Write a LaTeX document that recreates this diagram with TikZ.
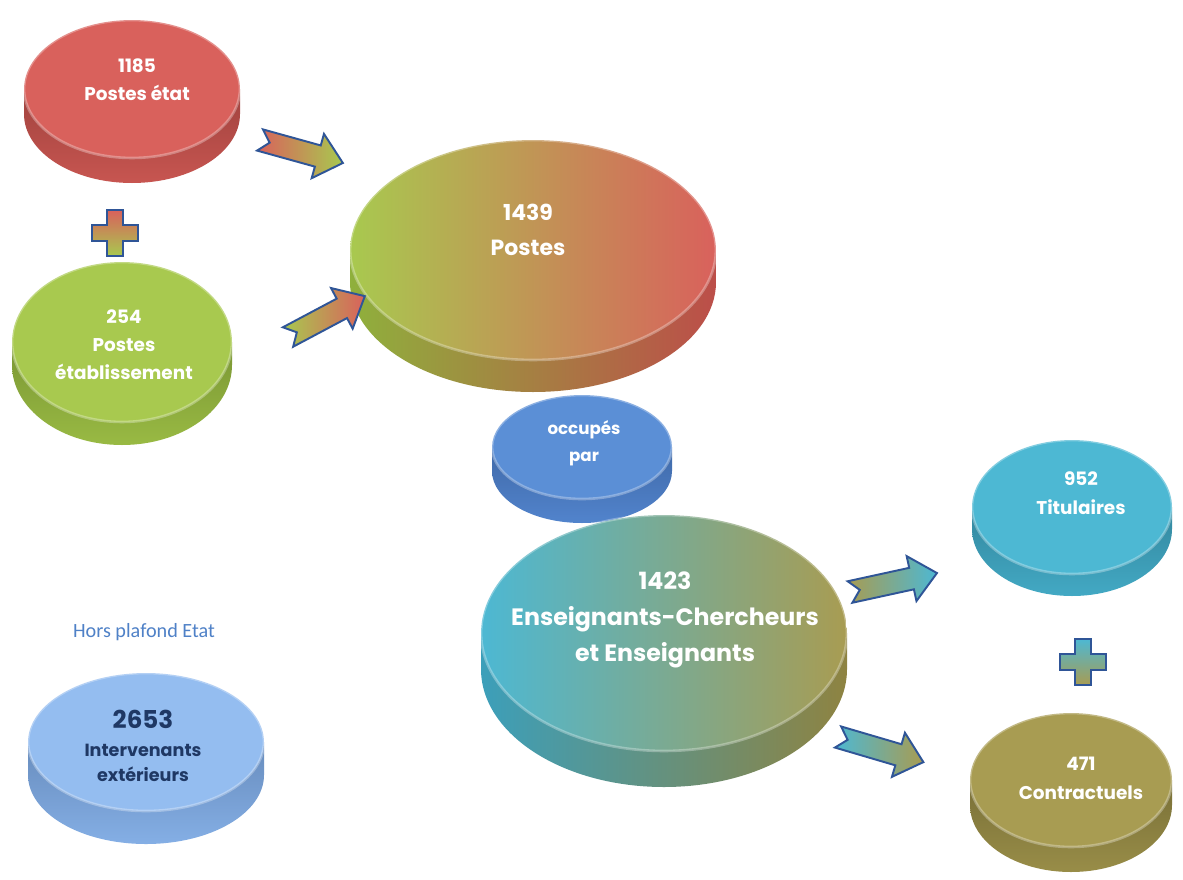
\documentclass[tikz,border=0pt]{standalone}
\usepackage{fontspec}
\setmainfont{Poppins}
\newfontfamily\carl{Carlito}
\usetikzlibrary{shapes.geometric}
\definecolor{cred}{HTML}{D9615C}
\definecolor{credrim}{HTML}{BC4E49}
\definecolor{cgreen}{HTML}{A8C94F}
\definecolor{cgreenrim}{HTML}{8FB03C}
\definecolor{cblue}{HTML}{5B8FD6}
\definecolor{cbluerim}{HTML}{4B7CC6}
\definecolor{ccyan}{HTML}{4DB8D3}
\definecolor{ccyanrim}{HTML}{3C9FBA}
\definecolor{colive}{HTML}{A89C52}
\definecolor{coliverim}{HTML}{8E8341}
\definecolor{clight}{HTML}{94BDF0}
\definecolor{clightrim}{HTML}{7AA5DE}
\definecolor{cnavy}{HTML}{1F3864}
\definecolor{cborder}{HTML}{2F5597}
\definecolor{chors}{HTML}{4F81C7}
% name, cx, cy, rx, ry, depth, face style, rim style
\newcommand\mydisk[8]{%
  \path[#8] (#2-#4,#3) -- (#2-#4,#3+#6)
    arc[start angle=180, end angle=0, x radius=#4, y radius=#5]
    -- (#2+#4,#3) -- cycle;
  \node[ellipse, inner sep=0pt, minimum width=#4*0.04cm, minimum height=#5*0.04cm, #7] (#1) at (#2,#3) {};
}
% x, y, angle, length, tail colour, head colour
\newcommand\blockarrow[6]{%
  \begin{scope}[shift={(#1,#2)}, rotate=#3]
    \draw[arrowline, left color=#5, right color=#6]
      (0,-11) -- (#4-26,-11) -- (#4-26,-23) -- (#4,0) -- (#4-26,23)
      -- (#4-26,11) -- (0,11) -- (10,0) -- cycle;
  \end{scope}}
% x, y, top colour, bottom colour
\newcommand\plussign[4]{%
  \draw[arrowline, top color=#3, bottom color=#4]
    (#1-8,#2-23) -- (#1+8,#2-23) -- (#1+8,#2-8) -- (#1+23,#2-8) -- (#1+23,#2+8)
    -- (#1+8,#2+8) -- (#1+8,#2+23) -- (#1-8,#2+23) -- (#1-8,#2+8) -- (#1-23,#2+8)
    -- (#1-23,#2-8) -- (#1-8,#2-8) -- cycle;}
\begin{document}
\begin{tikzpicture}[x=0.02cm,y=-0.02cm,
  arrowline/.style={draw=cborder, line width=1.1pt, line join=miter},
  lab/.style={text=white, align=center, font=\bfseries},
  facedraw/.style={draw=white, draw opacity=0.3, line width=1.5pt}]
\useasboundingbox (0,0) rectangle (1183,879);
\fill[white] (0,0) rectangle (1183,879);

% disks
\mydisk{d1185}{132}{89}{108}{69}{25}{fill=cred, facedraw}{top color=credrim!85!black, bottom color=credrim!60!cred}
\mydisk{d254}{122}{342}{110}{80}{23}{fill=cgreen, facedraw}{top color=cgreenrim!85!black, bottom color=cgreenrim!60!cgreen}
\mydisk{d1439}{533}{250}{183}{110}{32}{left color=cgreen, right color=cred, facedraw}{left color=cgreenrim, right color=credrim}
\mydisk{docc}{582}{447}{90}{52}{24}{fill=cblue, facedraw}{top color=cbluerim!85!black, bottom color=cbluerim!60!cblue}
\mydisk{d1423}{664}{633}{183}{118}{36}{left color=ccyan, right color=colive, facedraw}{left color=ccyanrim, right color=coliverim}
\mydisk{d952}{1072}{507}{100}{67}{22}{fill=ccyan, facedraw}{top color=ccyanrim!85!black, bottom color=ccyanrim!60!ccyan}
\mydisk{d471}{1071}{780}{101}{67}{25}{fill=colive, facedraw}{top color=coliverim!85!black, bottom color=coliverim!60!colive}
\mydisk{d2653}{146}{742}{118}{69}{33}{fill=clight, facedraw}{top color=clightrim!85!black, bottom color=clightrim!60!clight}

% labels
\node[lab, font=\bfseries\fontsize{10.5}{16}\selectfont] (t1185) at (137,80) {1185\\Postes état};
\node[lab, font=\bfseries\fontsize{10.5}{16}\selectfont] (t254) at (124,345) {254\\Postes\\établissement};
\node[lab, font=\bfseries\fontsize{12.5}{20}\selectfont] (t1439) at (528,230) {1439\\Postes};
\node[lab, font=\bfseries\fontsize{9.5}{15.5}\selectfont] (tocc) at (584,443) {occupés\\par};
\node[lab, font=\bfseries\fontsize{13.5}{20.4}\selectfont] (t1423) at (665,620) {1423\\Enseignants-Chercheurs\\et Enseignants};
\node[lab, font=\bfseries\fontsize{10.5}{16.5}\selectfont] (t952) at (1081,493) {952\\Titulaires};
\node[lab, font=\bfseries\fontsize{10.5}{16.5}\selectfont] (t471) at (1081,778) {471\\Contractuels};
\node[lab, text=cnavy, font=\bfseries\fontsize{10}{14.5}\selectfont] (t2653) at (143,763) {Intervenants\\extérieurs};
\node[lab, text=cnavy, font=\bfseries\fontsize{14}{16}\selectfont] (n2653) at (143,719) {2653};
\node[text=chors, font=\carl\fontsize{11.5}{14}\selectfont] (hors) at (144,632) {Hors plafond Etat};

% arrows
\blockarrow{260}{140}{-15.5}{86}{cred}{cgreen}
\blockarrow{288}{337}{28}{87}{cgreen}{cred}
\blockarrow{850}{592}{12.3}{89}{colive}{ccyan}
\blockarrow{838}{737}{-16.4}{89}{ccyan}{colive}

% plus signs
\plussign{115}{233}{cred}{cgreen}
\plussign{1083}{662}{ccyan}{colive}
\end{tikzpicture}
\end{document}
